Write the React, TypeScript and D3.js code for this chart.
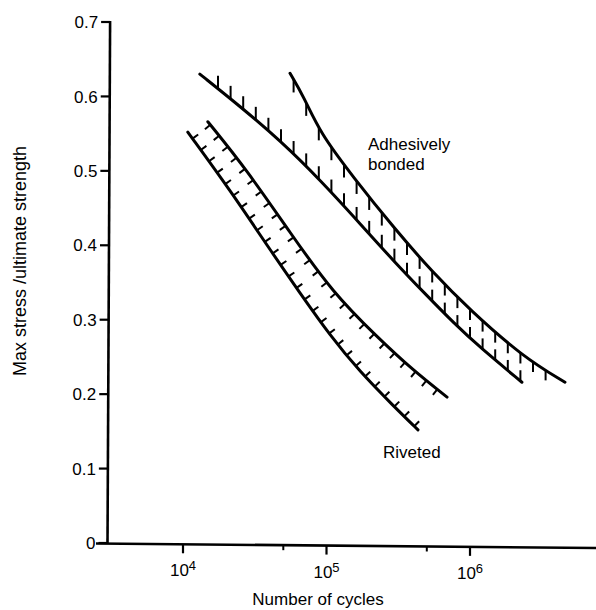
import React, { useEffect, useRef } from "react";
import * as d3 from "d3";

// Axis ticks
const yTicks = [0, 0.1, 0.2, 0.3, 0.4, 0.5, 0.6, 0.7];
const yTickLabels = ["0", "0.1", "0.2", "0.3", "0.4", "0.5", "0.6", "0.7"];
const xMajorTicks = [1e4, 1e5, 1e6];
const xMajorExponents = ["4", "5", "6"];
const xMinorTicks = [5e4, 5e5];

// Riveted band (cycles, max stress / ultimate strength)
const rivetedLowerN = [10800, 21300, 40400, 65300, 105700, 171000, 290000, 434000];
const rivetedLowerS = [0.552, 0.474, 0.394, 0.336, 0.279, 0.23, 0.185, 0.152];
const rivetedUpperN = [14900, 27900, 55700, 111000, 225000, 401000, 692000];
const rivetedUpperS = [0.566, 0.501, 0.417, 0.336, 0.277, 0.232, 0.196];

// Adhesively bonded band
const bondedLowerN = [13100, 24900, 47400, 90200, 179000, 290000, 485000, 785000, 1170000, 2300000];
const bondedLowerS = [0.63, 0.587, 0.541, 0.488, 0.425, 0.38, 0.335, 0.294, 0.263, 0.216];
const bondedUpperN = [55700, 69700, 90200, 153000, 290000, 552000, 1000000, 2340000, 4590000];
const bondedUpperS = [0.631, 0.599, 0.551, 0.492, 0.425, 0.363, 0.313, 0.25, 0.216];

const FONT = "'Liberation Sans', Arial, Helvetica, sans-serif";

export default function App() {
  const ref = useRef<SVGSVGElement>(null);

  useEffect(() => {
    const svg = d3.select(ref.current);
    svg.selectAll("*").remove();

    const x = d3.scaleLog().domain([1e4, 1e6]).range([183, 470]);
    const y = d3.scaleLinear().domain([0, 0.7]).range([543, 22]);
    // slight skew of the scanned axes
    const axisXAt = (py: number) => 107.5 + (543 - py) * 0.005;
    const axisYAt = (px: number) => 543.5 + (px - 96) * 0.009;

    // Y axis
    svg.append("line")
      .attr("x1", axisXAt(y(0.7))).attr("x2", axisXAt(y(0)))
      .attr("y1", y(0.7) - 1).attr("y2", y(0) + 1)
      .attr("stroke", "#000").attr("stroke-width", 2.6);
    yTicks.forEach((t, i) => {
      const ax = axisXAt(y(t));
      svg.append("line")
        .attr("x1", ax - 9).attr("x2", ax)
        .attr("y1", y(t)).attr("y2", y(t))
        .attr("stroke", "#000").attr("stroke-width", 2.2);
      svg.append("text")
        .attr("x", ax - 12).attr("y", y(t)).attr("dy", "0.36em")
        .attr("text-anchor", "end")
        .attr("font-family", FONT).attr("font-size", 17)
        .attr("fill", "#000")
        .text(yTickLabels[i]);
    });

    // X axis
    svg.append("line")
      .attr("x1", 96).attr("x2", 596)
      .attr("y1", axisYAt(96)).attr("y2", axisYAt(596))
      .attr("stroke", "#000").attr("stroke-width", 2.6);
    xMajorTicks.forEach((t, i) => {
      const ay = axisYAt(x(t));
      svg.append("line")
        .attr("x1", x(t)).attr("x2", x(t))
        .attr("y1", ay).attr("y2", ay + 9)
        .attr("stroke", "#000").attr("stroke-width", 2.2);
      const tx = svg.append("text")
        .attr("x", x(t)).attr("y", ay + 32)
        .attr("text-anchor", "middle")
        .attr("font-family", FONT).attr("font-size", 17)
        .attr("fill", "#000");
      tx.append("tspan").text("10");
      tx.append("tspan").attr("dy", -6).attr("font-size", 13).text(xMajorExponents[i]);
    });
    xMinorTicks.forEach((t) => {
      const ay = axisYAt(x(t));
      svg.append("line")
        .attr("x1", x(t)).attr("x2", x(t))
        .attr("y1", ay).attr("y2", ay + 5)
        .attr("stroke", "#000").attr("stroke-width", 2);
    });

    // Axis titles
    svg.append("text")
      .attr("x", 318).attr("y", 605)
      .attr("text-anchor", "middle")
      .attr("font-family", FONT).attr("font-size", 17).attr("fill", "#000")
      .text("Number of cycles");
    svg.append("text")
      .attr("transform", "translate(26,261) rotate(-90)")
      .attr("text-anchor", "middle")
      .attr("font-family", FONT).attr("font-size", 18).attr("fill", "#000")
      .text("Max stress /ultimate strength");

    // Curves
    const line = d3.line<[number, number]>().curve(d3.curveBasis);
    const toPts = (N: number[], S: number[]) =>
      N.map((n, i) => [x(n), y(S[i])] as [number, number]);

    const drawCurve = (pts: [number, number][]) => {
      const p = svg.append("path")
        .attr("d", line(pts) as string)
        .attr("fill", "none").attr("stroke", "#000")
        .attr("stroke-width", 3).attr("stroke-linecap", "round");
      const node = p.node() as SVGPathElement;
      const total = node.getTotalLength();
      const samples: { x: number; y: number; s: number }[] = [];
      for (let s = 0; s <= total; s += 0.5) {
        const q = node.getPointAtLength(s);
        samples.push({ x: q.x, y: q.y, s });
      }
      return { node, total, samples };
    };

    const hatch = svg.append("g")
      .attr("stroke", "#000").attr("stroke-width", 2).attr("stroke-linecap", "butt");

    const perpTicks = (c: ReturnType<typeof drawCurve>, dir: number, step: number, len: number, offset: number) => {
      for (let s = offset; s <= c.total - 1; s += step) {
        const a = c.node.getPointAtLength(Math.max(0, s - 1));
        const b = c.node.getPointAtLength(Math.min(c.total, s + 1));
        const p = c.node.getPointAtLength(s);
        let tx = b.x - a.x, ty = b.y - a.y;
        const m = Math.hypot(tx, ty) || 1;
        tx /= m; ty /= m;
        const nx = ty * dir, ny = -tx * dir;
        hatch.append("line")
          .attr("x1", p.x).attr("y1", p.y)
          .attr("x2", p.x + nx * len).attr("y2", p.y + ny * len);
      }
    };

    const yAt = (samples: { x: number; y: number }[], xv: number): number | null => {
      if (xv < samples[0].x || xv > samples[samples.length - 1].x) return null;
      const i = d3.bisector((d: { x: number }) => d.x).left(samples, xv);
      if (i <= 0) return samples[0].y;
      const a = samples[i - 1], b = samples[i];
      const t = (xv - a.x) / ((b.x - a.x) || 1);
      return a.y + t * (b.y - a.y);
    };

    // Riveted band
    const rl = drawCurve(toPts(rivetedLowerN, rivetedLowerS));
    const ru = drawCurve(toPts(rivetedUpperN, rivetedUpperS));
    perpTicks(rl, 1, 14, 7, 8);
    perpTicks(ru, -1, 14, 7, 4);

    // Bonded band
    const bl = drawCurve(toPts(bondedLowerN, bondedLowerS));
    const bu = drawCurve(toPts(bondedUpperN, bondedUpperS));
    const xs = d3.range(218, 552, 12.6);
    xs.forEach((xv) => {
      const yl = yAt(bl.samples, xv);
      const yu = yAt(bu.samples, xv);
      if (yl !== null) {
        const L = yu !== null ? Math.min(13, (yl - yu) * 0.38) : 13;
        hatch.append("line").attr("x1", xv).attr("x2", xv).attr("y1", yl).attr("y2", yl - L);
      }
      if (yu !== null) {
        const L = yl !== null ? Math.min(13, (yl - yu) * 0.38) : 10;
        hatch.append("line").attr("x1", xv).attr("x2", xv).attr("y1", yu).attr("y2", yu + L);
      }
    });

    // Labels
    const lab = (t: string, lx: number, ly: number) =>
      svg.append("text").attr("x", lx).attr("y", ly)
        .attr("font-family", FONT).attr("font-size", 17).attr("fill", "#000").text(t);
    lab("Adhesively", 368, 150);
    lab("bonded", 368, 170);
    lab("Riveted", 383, 458);
  }, []);

  return (
    <svg
      ref={ref}
      width={596}
      height={610}
      style={{ position: "absolute", left: 0, top: 0, background: "#fff" }}
    />
  );
}
